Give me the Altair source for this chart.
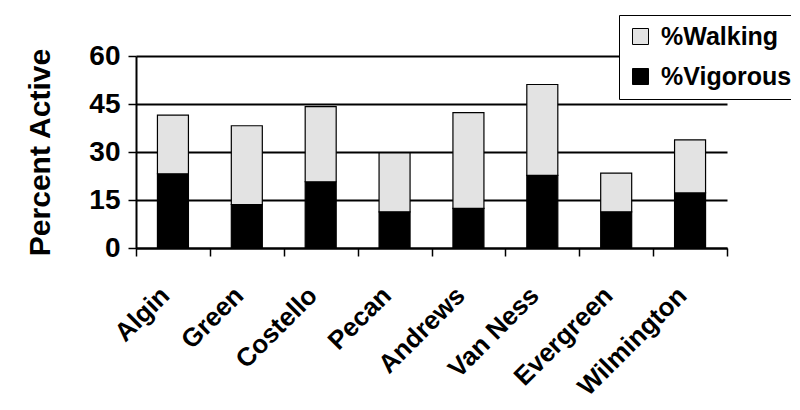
import altair as alt
import pandas as pd

sites = ["Algin", "Green", "Costello", "Pecan", "Andrews", "Van Ness", "Evergreen", "Wilmington"]
vigorous = [23.2, 13.6, 20.7, 11.3, 12.4, 22.7, 11.3, 17.2]
walking = [18.3, 24.6, 23.5, 18.4, 29.9, 28.4, 12.1, 16.6]
series = ["%Walking", "%Vigorous"]
y_ticks = [0, 15, 30, 45, 60]

rows = []
for s, v, w in zip(sites, vigorous, walking):
    rows.append({"site": s, "series": "%Vigorous", "value": v, "ord": 0})
    rows.append({"site": s, "series": "%Walking", "value": w, "ord": 1})
df = pd.DataFrame(rows)

FONT = "Liberation Sans"

chart = alt.Chart(df).mark_bar(width=31, stroke="black", strokeWidth=1.2).encode(
    x=alt.X("site:N", sort=sites,
            scale=alt.Scale(paddingInner=0, paddingOuter=0),
            axis=alt.Axis(title=None, tickBand="extent", labelAngle=-45,
                          labelAlign="right", labelBaseline="middle",
                          labelFont=FONT, labelFontWeight="bold", labelFontSize=26,
                          labelColor="black", labelPadding=35, labelOffset=-8,
                          domainColor="black", domainWidth=2,
                          tickColor="black", tickWidth=1.5, tickSize=8, grid=False)),
    y=alt.Y("value:Q", stack="zero",
            scale=alt.Scale(domain=[0, 60], nice=False),
            axis=alt.Axis(title="Percent Active", values=y_ticks,
                          labelFont=FONT, labelFontWeight="bold", labelFontSize=28,
                          labelColor="black", labelPadding=8,
                          titleFont=FONT, titleFontWeight="bold", titleFontSize=30,
                          titleColor="black", titlePadding=33,
                          domainColor="black", domainWidth=2,
                          tickColor="black", tickWidth=1.5, tickSize=8,
                          grid=True, gridColor="black", gridWidth=2, gridOpacity=1)),
    color=alt.Color("series:N",
                    scale=alt.Scale(domain=series, range=["#e3e3e3", "#000000"]),
                    legend=alt.Legend(title=None, orient="none", legendX=483, legendY=-41,
                                      fillColor="white", strokeColor="black",
                                      padding=9, rowPadding=14, labelOffset=8,
                                      symbolType="square", symbolSize=256,
                                      symbolStrokeColor="black", symbolStrokeWidth=1,
                                      labelFont=FONT, labelFontWeight="bold",
                                      labelFontSize=25, labelColor="black")),
    order=alt.Order("ord:Q"),
).properties(
    width=591, height=192,
    autosize=alt.AutoSizeParams(type="none"),
    padding={"left": 128, "top": 48, "right": 64, "bottom": 152},
).configure_view(stroke=None)

chart.save("out.html", embed_options={"renderer": "svg", "actions": False})
